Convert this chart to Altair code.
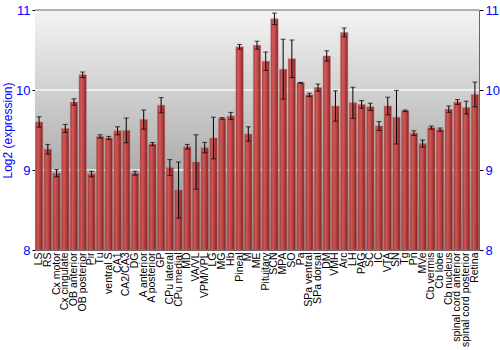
import altair as alt
import pandas as pd

regions = ["LS", "RS", "Cx motor", "Cx cingulate", "OB anterior", "OB posterior", "Pir", "Tu",
           "ventral S", "CA1", "CA2/CA3", "DG", "A anterior", "A posterior", "GP", "CPu lateral",
           "CPu medial", "MD", "VA/VL", "VPM/VPL", "LG", "MG", "Hb", "Pineal", "M", "ME",
           "Pituitary", "SCN", "MPA", "SO", "Pa", "SPa ventral", "SPa dorsal", "DM", "VMH", "Arc",
           "LH", "PAG", "SC", "IC", "VTA", "SN", "Tg", "Pn", "MVe", "Cb vermis", "Cb lobe",
           "Cb nucleus", "spinal cord anterior", "spinal cord posterior", "Retina"]
values = [9.60, 9.26, 8.96, 9.52, 9.85, 10.19, 8.95, 9.42,
          9.40, 9.49, 9.495, 8.96, 9.63, 9.325, 9.81, 9.03,
          8.75, 9.29, 9.10, 9.28, 9.40, 9.645, 9.675, 10.54, 9.45, 10.56,
          10.36, 10.89, 10.26, 10.39, 10.09, 9.94, 10.03, 10.425, 9.80, 10.72,
          9.84, 9.82, 9.79, 9.55, 9.80, 9.66, 9.74, 9.46, 9.33, 9.53, 9.505,
          9.76, 9.85, 9.78, 9.945]
errors = [0.065, 0.06, 0.045, 0.05, 0.04, 0.035, 0.035, 0.02,
          0.02, 0.05, 0.155, 0.025, 0.12, 0.02, 0.095, 0.10,
          0.35, 0.03, 0.34, 0.065, 0.26, 0.01, 0.045, 0.03, 0.09, 0.05,
          0.115, 0.072, 0.375, 0.235, 0.005, 0.02, 0.045, 0.065, 0.19, 0.055,
          0.195, 0.048, 0.045, 0.055, 0.11, 0.335, 0.01, 0.03, 0.045, 0.02, 0.02,
          0.04, 0.03, 0.08, 0.155]
y_ticks = [8, 9, 10, 11]
grid_values = [9, 10]

df = pd.DataFrame({"region": regions, "value": values, "err": errors})
df["lo"] = df["value"] - df["err"]
df["hi"] = df["value"] + df["err"]

W, H = 444, 240
yscale = alt.Scale(domain=[8, 11], nice=False, zero=False)
xenc = alt.X("region:N", sort=regions,
             scale=alt.Scale(paddingInner=0.16, paddingOuter=0.05),
             axis=alt.Axis(title=None, labelAngle=-90, labelFontSize=10.5, labelColor="black",
                           labelFont="Liberation Sans", ticks=False, labelPadding=2,
                           domainColor="#666666", labelOverlap=False))

bg = alt.Chart(pd.DataFrame({"a": [0]})).mark_rect(
    fill=alt.Gradient(gradient="linear", x1=0, x2=0, y1=0, y2=1,
                      stops=[alt.GradientStop(offset=0, color="#f4f4f4"),
                             alt.GradientStop(offset=1, color="#8a8a8a")])
).encode(x=alt.value(0), x2=alt.value(W), y=alt.value(0), y2=alt.value(H))

grid = alt.Chart(pd.DataFrame({"g": grid_values})).mark_rule(
    color="white", strokeWidth=1.5, opacity=0.85
).encode(y=alt.Y("g:Q", scale=yscale, axis=None))

bars = alt.Chart(df).mark_bar(
    opacity=0.92,
    fill=alt.Gradient(gradient="linear", x1=0, x2=1, y1=0, y2=0,
                      stops=[alt.GradientStop(offset=0, color="#9a2a2a"),
                             alt.GradientStop(offset=0.3, color="#d25252"),
                             alt.GradientStop(offset=0.6, color="#bb3a3a"),
                             alt.GradientStop(offset=1, color="#7a1616")]),
    stroke="#c07070", strokeWidth=0.5
).encode(
    x=xenc,
    y=alt.Y("value:Q", scale=yscale,
            axis=alt.Axis(orient="left", values=y_ticks, title="Log2 (expression)",
                          titleColor="blue", titleFontSize=12, titleFont="Liberation Sans",
                          titleFontWeight="normal", titlePadding=1,
                          labelColor="blue", labelFontSize=13, labelFont="Liberation Sans",
                          tickColor="black", tickSize=3, labelPadding=2,
                          domainColor="#666666", grid=False)),
    y2=alt.datum(8)
)

rules = alt.Chart(df).mark_rule(color="black", strokeWidth=1).encode(
    x=xenc, y=alt.Y("lo:Q", scale=yscale, axis=None), y2="hi:Q")
caps_lo = alt.Chart(df).mark_tick(color="black", thickness=1, size=5).encode(
    x=xenc, y=alt.Y("lo:Q", scale=yscale, axis=None))
caps_hi = alt.Chart(df).mark_tick(color="black", thickness=1, size=5).encode(
    x=xenc, y=alt.Y("hi:Q", scale=yscale, axis=None))

top = alt.Chart(pd.DataFrame({"t": [11]})).mark_rule(color="#666666", strokeWidth=1).encode(
    y=alt.Y("t:Q", scale=yscale,
            axis=alt.Axis(orient="right", values=y_ticks, title=None,
                          labelColor="blue", labelFontSize=13, labelFont="Liberation Sans",
                          tickColor="black", tickSize=4, labelPadding=2,
                          domainColor="#666666", grid=False)))

chart = alt.layer(bg, grid, bars, rules, caps_lo, caps_hi, top).resolve_scale(
    y="independent"
).properties(
    width=W, height=H,
    autosize=alt.AutoSizeParams(type="none"),
    padding={"left": 35, "top": 10, "right": 21, "bottom": 100}
).configure_view(stroke=None)

chart.save("out.html", embed_options={"renderer": "svg", "actions": False})
